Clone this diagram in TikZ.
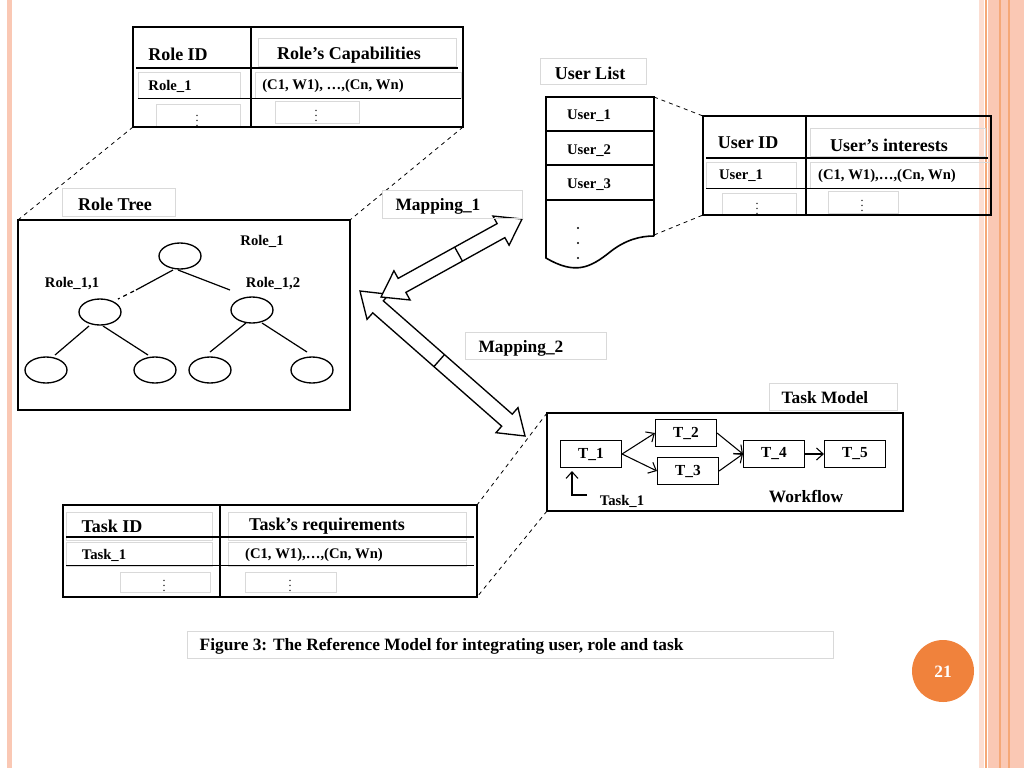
\documentclass[tikz,border=0pt]{standalone}
\usepackage{fontspec}
\setmainfont{Liberation Serif}
\usetikzlibrary{calc,shapes.geometric,arrows.meta}
\begin{document}
\begin{tikzpicture}[x=0.75pt,y=-0.75pt,
  lbl/.style={font=\bfseries\fontsize{13}{15}\selectfont},
  big/.style={font=\bfseries\fontsize{13.5}{16}\selectfont},
  sm/.style={font=\bfseries\fontsize{11}{12}\selectfont},
  vd/.style={font=\fontsize{9}{10}\selectfont,inner sep=0pt},
  gbox/.style={draw=black!15,line width=0.5pt},
  frame/.style={draw,line width=1.3pt},
  dsh/.style={dashed,line width=0.6pt},
  ell/.style={draw,ellipse,line width=1pt,minimum width=31.5pt,minimum height=19.5pt,inner sep=0pt},
  tb/.style={draw,line width=0.6pt,minimum width=46pt,minimum height=20pt,font=\bfseries\fontsize{11.5}{13}\selectfont},
  conn/.style={-{Straight Barb[length=5pt,width=9pt]},line width=0.8pt},
  ha/.style={line width=0.9pt}]
\useasboundingbox (0,0) rectangle (1024,768);
\definecolor{peach}{RGB}{250,200,180}
\definecolor{orng}{RGB}{240,130,60}
% borders
\fill[peach] (7,0) rectangle (12,768);
\fill[peach!60] (979,0) rectangle (984,768);
\fill[peach] (988,0) rectangle (1024,768);
\draw[orng!70,line width=0.8pt] (986,0)--(986,768) (1000,0)--(1000,768) (1009,0)--(1009,768);
% Role table
\draw[gbox] (258,38) rectangle (456,66);
\draw[gbox] (138,72) rectangle (240,98) (255,72) rectangle (461,98) (156,104) rectangle (240,127) (275,101) rectangle (359,123);
\draw[frame] (133,27) rectangle (463,127);
\draw[line width=1pt] (251,27)--(251,127);
\draw[line width=1pt] (136,68)--(458,68);
\draw[line width=0.7pt] (138,98)--(461,98);
\node[big] (rid) at (178,54) {Role ID};
\node[big] (rcap) at (349,55) {Role’s Capabilities};
\node[sm] (r1) at (170,86) {Role\_1};
\node[sm] (rc) at (333,86) {(C1, W1), …,(Cn, Wn)};
\node[vd] (rd1) at (197,117) {$\vdots$};
\node[vd] (rd2) at (316,112) {$\vdots$};
\draw[dsh] (133,127)--(18,220);
\draw[dsh] (463,127)--(350,220);
% Role tree
\draw[gbox] (62,188) rectangle (175,216);
\node[big] (rt) at (115,204) {Role Tree};
\draw[frame] (18,220) rectangle (350,410);
\node[ell] (n0) at (180,256) {};
\node[ell] (n1) at (100,312) {};
\node[ell] (n2) at (252,310) {};
\node[ell] (n3) at (46,370) {};
\node[ell] (n4) at (155,370) {};
\node[ell] (n5) at (210,370) {};
\node[ell] (n6) at (312,370) {};
\node[sm] at (262,241) {Role\_1};
\node[sm] at (72,284) {Role\_1,1};
\node[sm] at (273,284) {Role\_1,2};
\draw[ha] (173,270)--(136,290);
\draw[ha,dashed] (134,291)--(118,299);
\draw[ha] (178,270)--(230,290);
\draw[ha] (89,326)--(55,355);
\draw[ha] (103,326)--(148,355);
\draw[ha] (246,323)--(210,352);
\draw[ha] (262,323)--(307,352);
% Mapping arrows
\newcommand\dblarr[3]{%
 \draw[line width=1pt,fill=white]
  (#1) -- ($($(#1)!18pt!(#2)$)!12.5pt!90:(#2)$)
  -- ($($(#1)!18pt!(#2)$)!6pt!90:(#2)$)
  -- ($($(#2)!18pt!(#1)$)!6pt!-90:(#1)$)
  -- ($($(#2)!18pt!(#1)$)!12.5pt!-90:(#1)$)
  -- (#2)
  -- ($($(#2)!18pt!(#1)$)!12.5pt!90:(#1)$)
  -- ($($(#2)!18pt!(#1)$)!6pt!90:(#1)$)
  -- ($($(#1)!18pt!(#2)$)!6pt!-90:(#2)$)
  -- ($($(#1)!18pt!(#2)$)!12.5pt!-90:(#2)$) -- cycle;
 \draw[line width=1pt] ($($(#1)!#3!(#2)$)!6pt!90:(#2)$) -- ($($(#1)!#3!(#2)$)!6pt!-90:(#2)$);}
\coordinate (m1a) at (381,297);
\coordinate (m1b) at (522,219);
\coordinate (m2a) at (360,291);
\coordinate (m2b) at (525,436);
\dblarr{m2a}{m2b}{0.48}
\dblarr{m1a}{m1b}{0.55}
\draw[gbox] (382,190) rectangle (522,218);
\node[lbl] (map1) at (438,206) {Mapping\_1};
\draw[gbox] (465,332) rectangle (606,359);
\node[lbl] (map2) at (521,348) {Mapping\_2};
% User list
\draw[gbox] (540,58) rectangle (646,84);
\node[big] (ul) at (590,73) {User List};
\draw[line width=1.2pt] (654,236) -- (654,97) -- (546,97) -- (546,258)
  .. controls (575,275) and (590,268) .. (610,252) .. controls (625,240) and (640,236) .. (654,236);
\draw[line width=1pt] (546,131)--(654,131) (546,165)--(654,165) (546,200)--(654,200);
\node[sm] (u1) at (589,116) {User\_1};
\node[sm] (u2) at (589,151) {User\_2};
\node[sm] (u3) at (589,185) {User\_3};
\foreach \yy in {228,243,258} \fill (578,\yy) circle (1.2);
\draw[dsh] (654,97)--(703,116);
\draw[dsh] (654,235)--(703,215);
% User table
\draw[gbox] (810,128) rectangle (985,156) (706,162) rectangle (796,188) (810,162) rectangle (990,188) (722,193) rectangle (796,214) (828,191) rectangle (898,213);
\draw[frame] (703,116) rectangle (991,215);
\draw[line width=1pt] (806,116)--(806,215);
\draw[line width=1pt] (706,158)--(988,158);
\draw[line width=0.7pt] (706,188)--(990,188);
\node[big] (uid) at (748,143) {User ID};
\node[big] (uint) at (889,145) {User’s interests};
\node[sm] (uu1) at (741,176) {User\_1};
\node[sm] (uc) at (887,176) {(C1, W1),…,(Cn, Wn)};
\node[vd] at (757,205) {$\vdots$};
\node[vd] at (862,202) {$\vdots$};
% Task model
\draw[gbox] (769,383) rectangle (897,410);
\node[lbl] (tm) at (825,398) {Task Model};
\draw[frame] (547,413) rectangle (903,511);
\node[tb] (t1) at (591,454) {T\_1};
\node[tb] (t2) at (686,433) {T\_2};
\node[tb] (t3) at (688,471) {T\_3};
\node[tb] (t4) at (774,454) {T\_4};
\node[tb] (t5) at (855,454) {T\_5};
\draw[conn] (t1.east) -- (t2.west);
\draw[conn] (t1.east) -- (t3.west);
\draw[conn] (t2.east) -- (t4.west);
\draw[conn] (t3.east) -- (t4.west);
\draw[conn] (t4) -- (t5);
\node[sm] (task1) at (622,501) {Task\_1};
\coordinate (tk) at (572,471);
\draw[conn] (587,495) -- (572,495) -- (tk);
\node[lbl] (wf) at (806,497) {Workflow};
\draw[dsh] (547,413)--(477,505);
\draw[dsh] (547,511)--(477,597);
% Task table
\draw[gbox] (66,512) rectangle (212,540) (228,512) rectangle (466,540) (66,542) rectangle (212,566) (228,542) rectangle (466,566) (120,572) rectangle (210,592) (245,572) rectangle (336,592);
\draw[frame] (63,505) rectangle (477,597);
\draw[line width=1pt] (220,505)--(220,597);
\draw[line width=1pt] (66,537)--(474,537);
\draw[line width=0.7pt] (66,565)--(474,565);
\node[big] (tid) at (112,526) {Task ID};
\node[big] (treq) at (327,526) {Task’s requirements};
\node[sm] (tt1) at (104,555) {Task\_1};
\node[sm] (tc) at (314,555) {(C1, W1),…,(Cn, Wn)};
\node[vd] at (164,582) {$\vdots$};
\node[vd] at (290,582) {$\vdots$};
% caption
\draw[gbox] (187,631) rectangle (833,658);
\node[lbl,anchor=west] (cap) at (195,646) {Figure 3: The Reference Model for integrating user, role and task};
\fill[orng] (943,671) circle (31);
\node[font=\bfseries\fontsize{13}{15}\selectfont,text=white] (pg) at (943,672) {21};
\end{tikzpicture}
\end{document}
